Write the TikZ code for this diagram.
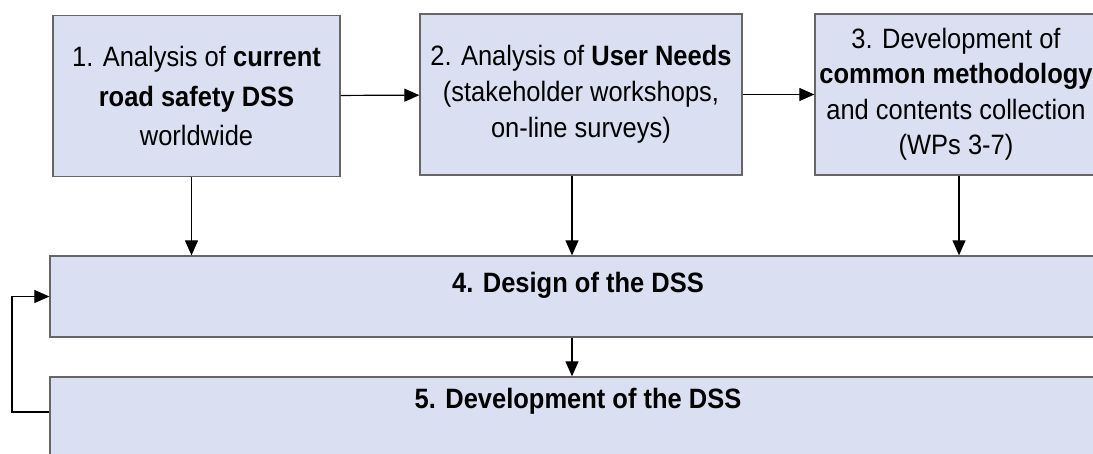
\documentclass[tikz,border=0pt]{standalone}
\usepackage{fontspec}
\setmainfont{Liberation Sans}[FakeStretch=0.91]
\usetikzlibrary{arrows.meta}
\definecolor{dssblue}{RGB}{218,224,242}
\tikzset{
  stage/.style={draw=black!60, line width=1.3pt, fill=dssblue, inner sep=0pt, align=center, minimum height=161pt},
  wide/.style={draw=black!60, line width=1.3pt, fill=dssblue, inner sep=0pt, minimum width=1056pt, font={\fontsize{28}{34}\selectfont\bfseries}},
  flow/.style={line width=1.2pt, -{Triangle[length=15pt, width=13pt]}}
}
\begin{document}
\begin{tikzpicture}[x=1pt, y=-1pt]
	\path[use as bounding box, clip] (0,0) rectangle (1093,453);
	\node[stage, minimum width=287pt, font={\fontsize{28}{39.5}\selectfont}] (current) at (196.5,96)
		{1. Analysis of \textbf{current}\\ \textbf{road safety DSS}\\ worldwide};
	\node[stage, minimum width=322pt, font={\fontsize{28}{36}\selectfont}] (needs) at (581,94.5)
		{2. Analysis of \textbf{User Needs}\\ (stakeholder workshops,\\ on-line surveys)};
	\node[stage, minimum width=282pt, font={\fontsize{28}{35.5}\selectfont}] (method) at (956,94.5)
		{3. Development of\\ \textbf{common methodology}\\ and contents collection\\ (WPs 3-7)};
	\node[wide, anchor=base, text height=36pt, text depth=45pt] (design) at (578,292) {4. Design of the DSS};
	\node[wide, anchor=base, text height=31pt, text depth=70pt] (develop) at (578,408) {5. Development of the DSS};
	\coordinate (back) at (12,412);
	\draw[flow] (current) -- (needs);
	\draw[flow] (needs) -- (method);
	\draw[flow] ([xshift=-5pt]current.south) -- ([xshift=-5pt]current.south |- design.north);
	\draw[flow] ([xshift=-9pt]needs.south) -- ([xshift=-9pt]needs.south |- design.north);
	\draw[flow] ([xshift=3pt]method.south) -- ([xshift=3pt]method.south |- design.north);
	\draw[flow] ([xshift=-6pt]design.south) -- ([xshift=-6pt]design.south |- develop.north);
	\draw[flow] (back -| develop.west) -- (back) |- (design.west);
\end{tikzpicture}
\end{document}
